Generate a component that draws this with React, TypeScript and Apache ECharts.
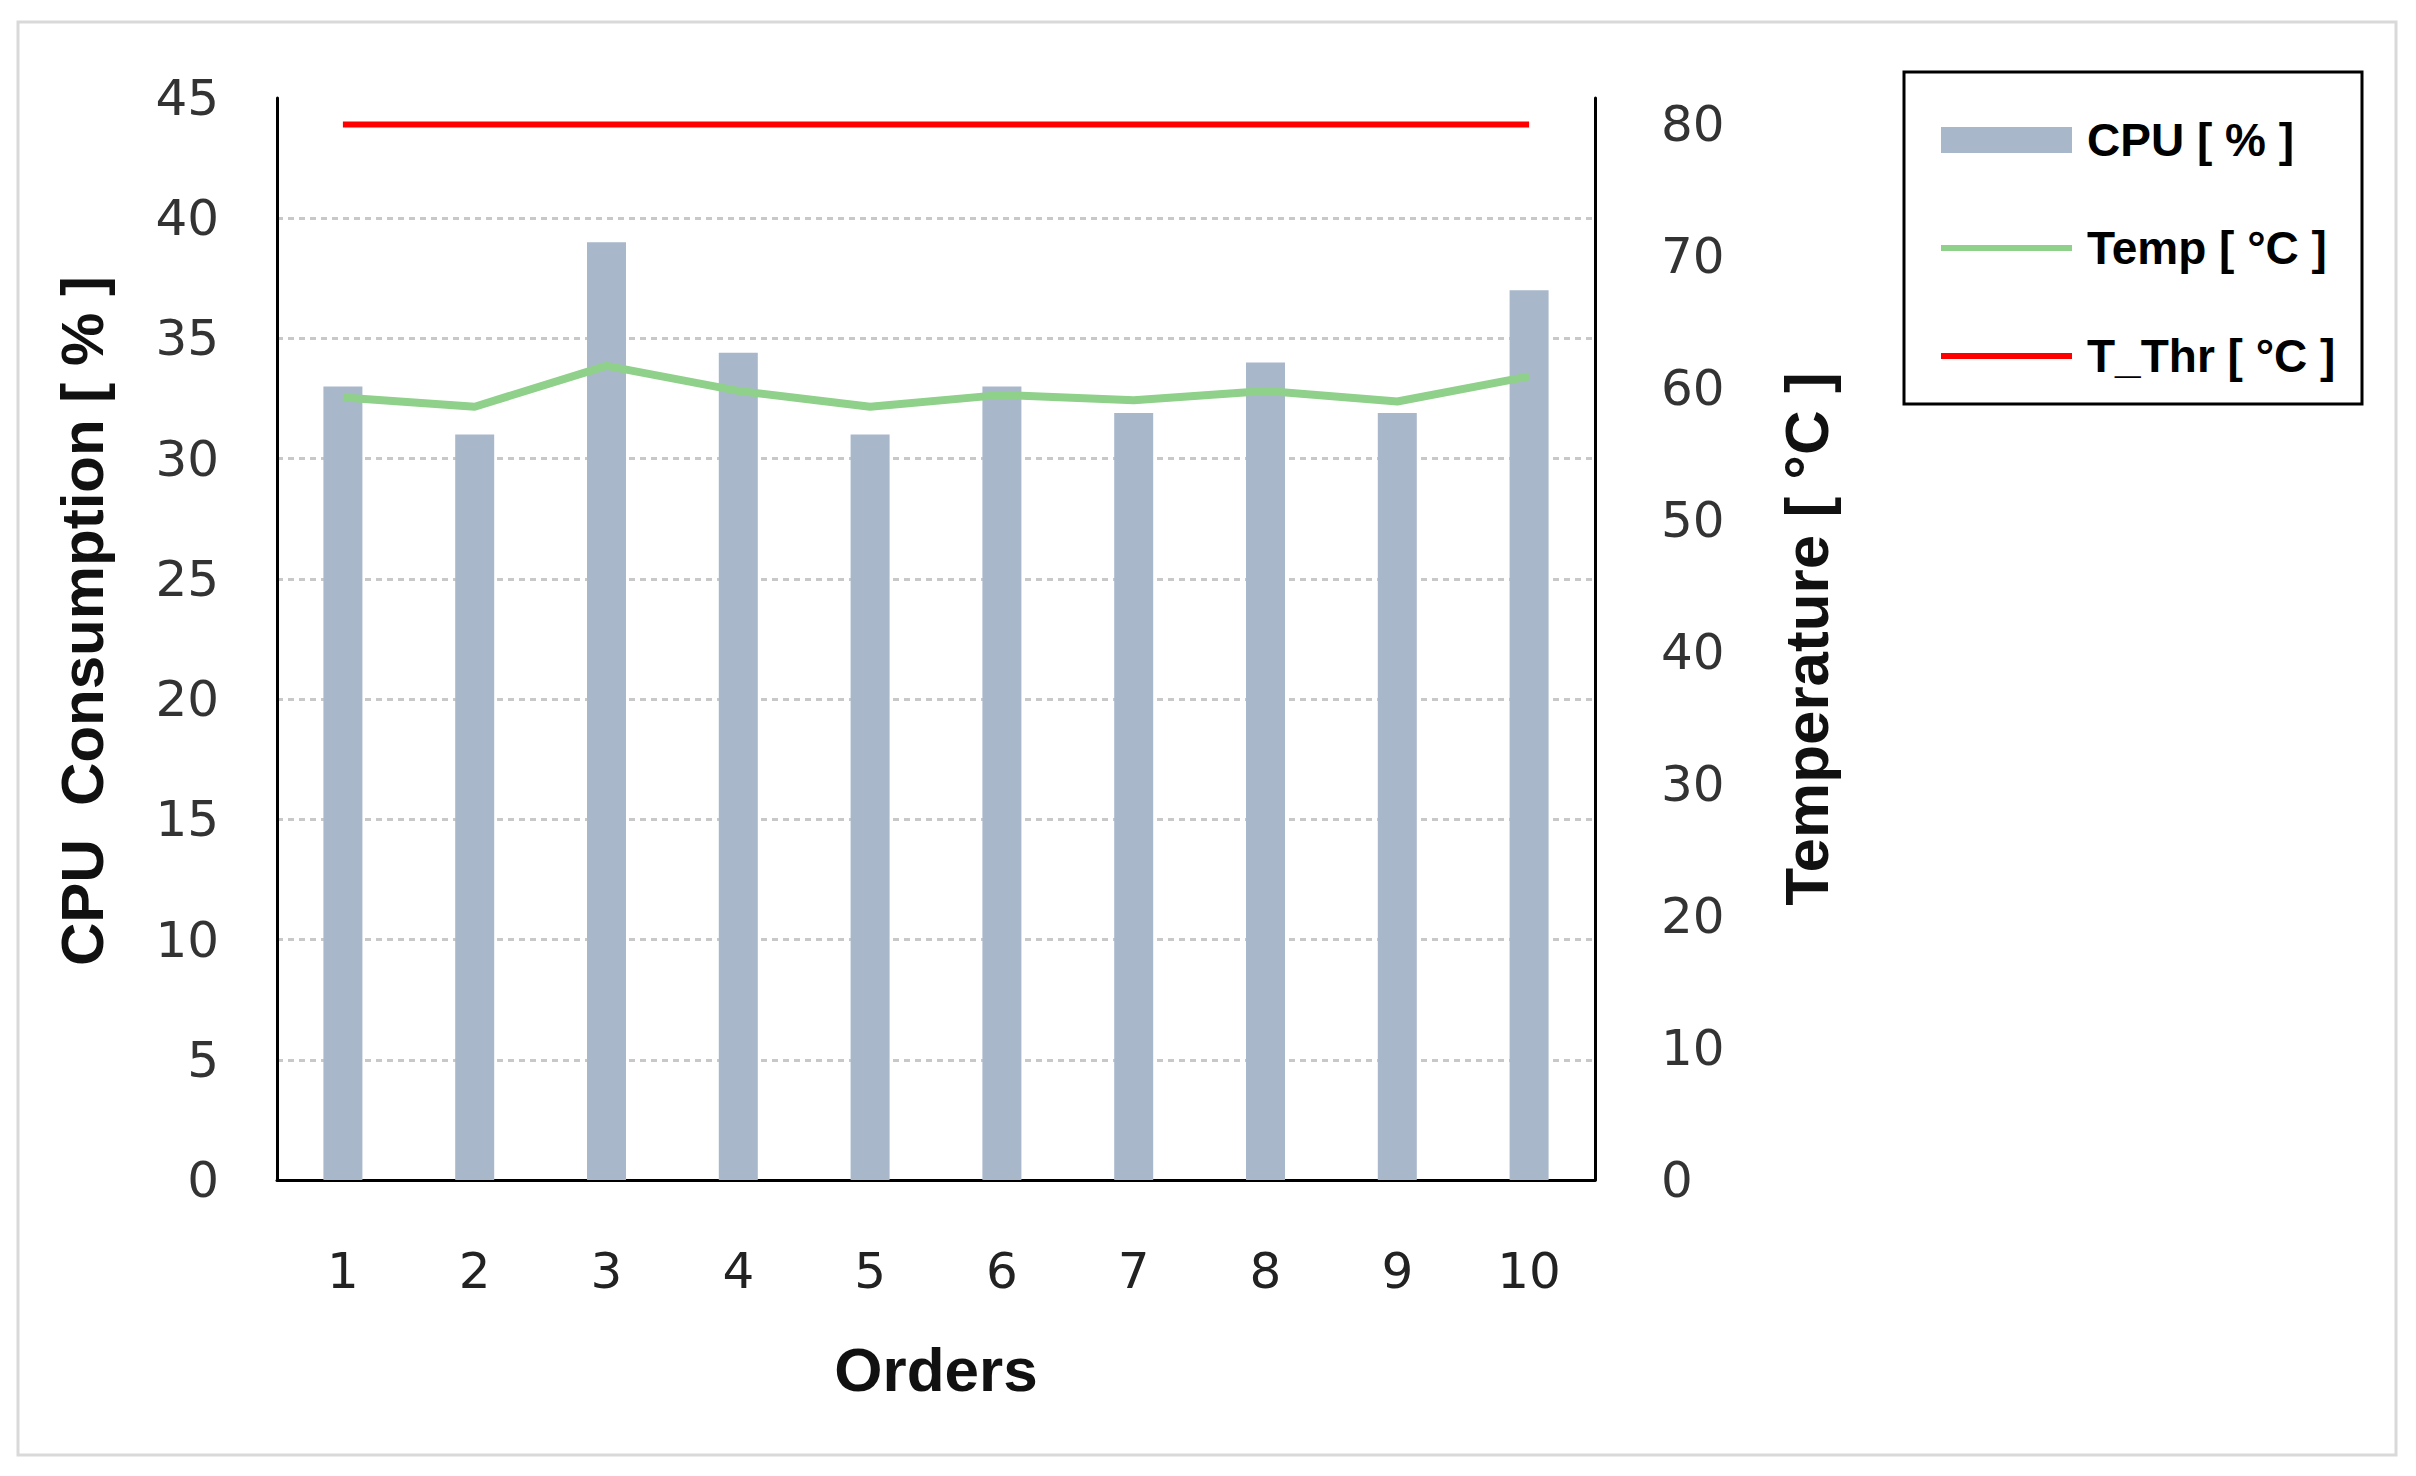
import React, { useEffect, useRef } from "react";
import * as echarts from "echarts";

const categories = ["1", "2", "3", "4", "5", "6", "7", "8", "9", "10"];
const cpuValues = [33, 31, 39, 34.4, 31, 33, 31.9, 34, 31.9, 37];
const tempValues = [59.3, 58.6, 61.7, 59.8, 58.6, 59.5, 59.1, 59.8, 59.0, 60.9];
const thresholdValues = [80, 80, 80, 80, 80, 80, 80, 80, 80, 80];
const seriesNames = ["CPU [ % ]", "Temp [ °C ]", "T_Thr [ °C ]"];
const axisNames = { x: "Orders", left: "CPU  Consumption [ % ]", right: "Temperature [ °C ]" };

const W = 2416;
const H = 1476;
const TICK_FONT = "DejaVu Sans";
const TITLE_FONT = "Liberation Sans";
const LINE_ICON = "path://M0,0L0.01,0Z M0,10H131V16H0Z M131,26L130.99,26Z";

export default function App() {
  const ref = useRef<HTMLDivElement>(null);
  useEffect(() => {
    if (!ref.current) return;
    const chart = echarts.init(ref.current, null, { renderer: "svg" });
    chart.setOption({
      animation: false,
      backgroundColor: "#ffffff",
      grid: { left: 277, top: 98, right: W - 1595, bottom: H - 1180, containLabel: false },
      graphic: [
        {
          type: "rect",
          shape: { x: 18, y: 22, width: 2378, height: 1433 },
          style: { fill: "none", stroke: "#D9D9D9", lineWidth: 3 },
          silent: true,
        },
        {
          type: "rect",
          shape: { x: 1904, y: 72, width: 458, height: 332 },
          style: { fill: "none", stroke: "#000000", lineWidth: 3 },
          silent: true,
        },
      ],
      legend: {
        orient: "vertical",
        left: 1936,
        top: 110,
        itemWidth: 131,
        itemHeight: 26,
        itemGap: 58,
        textStyle: {
          fontFamily: TITLE_FONT,
          fontWeight: "bold",
          fontSize: 46,
          lineHeight: 50,
          color: "#000000",
          padding: [0, 0, 0, 10],
        },
        data: [
          { name: seriesNames[0], icon: "rect" },
          { name: seriesNames[1], icon: LINE_ICON },
          { name: seriesNames[2], icon: LINE_ICON },
        ],
      },
      xAxis: {
        type: "category",
        data: categories,
        boundaryGap: true,
        axisLine: { show: true, lineStyle: { color: "#000000", width: 3 } },
        axisTick: { show: false },
        axisLabel: { margin: 66, fontFamily: TICK_FONT, fontSize: 50, color: "#222222" },
        name: axisNames.x,
        nameLocation: "middle",
        nameGap: 158,
        nameTextStyle: { fontFamily: TITLE_FONT, fontWeight: "bold", fontSize: 62, color: "#111111" },
      },
      yAxis: [
        {
          type: "value",
          min: 0,
          max: 45,
          interval: 5,
          position: "left",
          axisLine: { show: true, lineStyle: { color: "#000000", width: 3 } },
          axisTick: { show: false },
          axisLabel: { margin: 58, fontFamily: TICK_FONT, fontSize: 50, color: "#333333" },
          splitLine: {
            show: true,
            showMaxLine: false,
            lineStyle: { color: "#C8C8C8", width: 3, type: [6, 5] },
          },
          name: axisNames.left,
          nameLocation: "middle",
          nameRotate: 90,
          nameGap: 165,
          nameTextStyle: {
            fontFamily: TITLE_FONT,
            fontWeight: "bold",
            fontSize: 60,
            color: "#111111",
            padding: [0, 0, 0, 36],
          },
        },
        {
          type: "value",
          min: 0,
          max: 82,
          interval: 10,
          position: "right",
          axisLine: { show: true, lineStyle: { color: "#000000", width: 3 } },
          axisTick: { show: false },
          axisLabel: {
            margin: 66,
            fontFamily: TICK_FONT,
            fontSize: 50,
            color: "#333333",
            formatter: (v: number) => (v % 10 === 0 ? String(v) : ""),
          },
          splitLine: { show: false },
          name: axisNames.right,
          nameLocation: "middle",
          nameRotate: 90,
          nameGap: 180,
          nameTextStyle: { fontFamily: TITLE_FONT, fontWeight: "bold", fontSize: 62, color: "#111111" },
        },
      ],
      series: [
        {
          name: seriesNames[0],
          type: "bar",
          yAxisIndex: 0,
          data: cpuValues,
          barWidth: 39,
          itemStyle: { color: "#A9B7CB" },
        },
        {
          name: seriesNames[1],
          type: "line",
          yAxisIndex: 1,
          data: tempValues,
          symbol: "none",
          lineStyle: { color: "#8FD08A", width: 8 },
          itemStyle: { color: "#8FD08A" },
        },
        {
          name: seriesNames[2],
          type: "line",
          yAxisIndex: 1,
          data: thresholdValues,
          symbol: "none",
          lineStyle: { color: "#FF0000", width: 6 },
          itemStyle: { color: "#FF0000" },
        },
      ],
    });
    return () => chart.dispose();
  }, []);
  return (
    <div
      ref={ref}
      style={{ position: "absolute", left: 0, top: 0, width: W, height: H }}
    />
  );
}
